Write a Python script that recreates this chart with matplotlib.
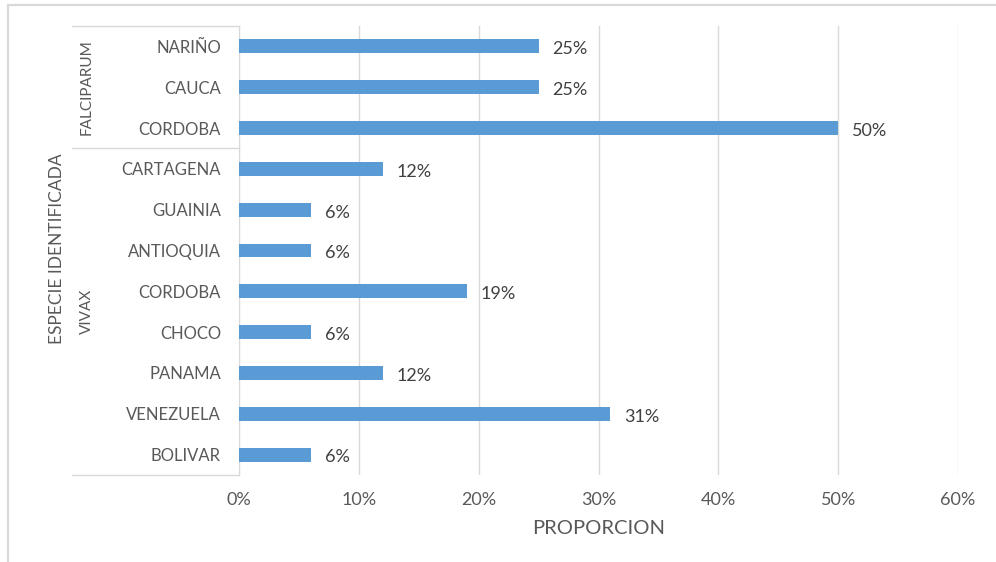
import matplotlib
matplotlib.use("Agg")
import matplotlib.pyplot as plt
import matplotlib.transforms as mtransforms
from matplotlib.lines import Line2D
from matplotlib.ticker import FuncFormatter

plt.rcParams["font.family"] = ["Lato", "DejaVu Sans"]

# --- Data (percent) ---
especies = ["FALCIPARUM", "VIVAX"]
falciparum_lugares = ["NARIÑO", "CAUCA", "CORDOBA"]
falciparum_pct = [25, 25, 50]
vivax_lugares = ["CARTAGENA", "GUAINIA", "ANTIOQUIA", "CORDOBA",
                 "CHOCO", "PANAMA", "VENEZUELA", "BOLIVAR"]
vivax_pct = [12, 6, 6, 19, 6, 12, 31, 6]
x_ticks = [0, 10, 20, 30, 40, 50, 60]

BAR_COLOR = "#5B9BD5"
GRID = "#D9D9D9"
TEXT = "#595959"
VALUE_TEXT = "#404040"

labels = falciparum_lugares + vivax_lugares
values = falciparum_pct + vivax_pct
group_sizes = [len(falciparum_lugares), len(vivax_lugares)]

W, H = 996, 562
fig = plt.figure(figsize=(W / 100, H / 100), dpi=100)
ax = fig.add_axes([239 / W, 1 - 475 / H, (958 - 239) / W, (475 - 26) / H])

ypos = list(range(len(labels)))
ax.barh(ypos, values, height=0.34, color=BAR_COLOR, zorder=3)
ax.set_ylim(len(labels) - 0.5, -0.5)
ax.set_xlim(x_ticks[0], x_ticks[-1])
ax.set_xticks(x_ticks)
ax.xaxis.set_major_formatter(FuncFormatter(lambda v, p: f"{v:.0f}%"))
ax.set_yticks(ypos)
ax.set_yticklabels(labels)
ax.tick_params(axis="y", length=0, pad=13, labelsize=12, labelcolor=TEXT)
ax.tick_params(axis="x", length=0, pad=12, labelsize=13, labelcolor=TEXT)
ax.grid(axis="x", color=GRID, linewidth=1, zorder=0)
for s in ["top", "right", "bottom"]:
    ax.spines[s].set_visible(False)
ax.spines["left"].set_color(GRID)
ax.set_xlabel("PROPORCION", fontsize=14.5, color=TEXT, labelpad=9)

# value labels
for i, v in enumerate(values):
    ax.annotate(f"{v}%", xy=(v, i), xytext=(10, -1), textcoords="offset points",
                va="center_baseline", ha="left", fontsize=13, color=VALUE_TEXT)

# grouped category box on the left
trans = mtransforms.blended_transform_factory(ax.transAxes, ax.transData)
x_left = (72 - 239) / (958 - 239)
x_grp = (87 - 239) / (958 - 239)
start = 0
bounds = [-0.5]
for name, n in zip(especies, group_sizes):
    top, bottom = start - 0.5, start + n - 0.5
    bounds.append(bottom)
    ax.text(x_grp, (top + bottom) / 2, name, transform=trans, rotation=90,
            ha="center", va="center", fontsize=11, color=TEXT)
    start += n
for b in bounds:
    ax.add_line(Line2D([x_left, 0], [b, b], transform=trans, color=GRID,
                       linewidth=1, clip_on=False))

fig.text(57 / W, 1 - 249 / H, "ESPECIE IDENTIFICADA", rotation=90,
         ha="center", va="center", fontsize=12.5, color=TEXT)

# outer frame (top and left edges)
fig.add_artist(Line2D([7.5 / W, 1], [1 - 4.5 / H] * 2, transform=fig.transFigure,
                      color=GRID, linewidth=1.6))
fig.add_artist(Line2D([7.5 / W] * 2, [0, 1 - 4.5 / H], transform=fig.transFigure,
                      color=GRID, linewidth=1.6))

fig.savefig("out.png", dpi=100)
